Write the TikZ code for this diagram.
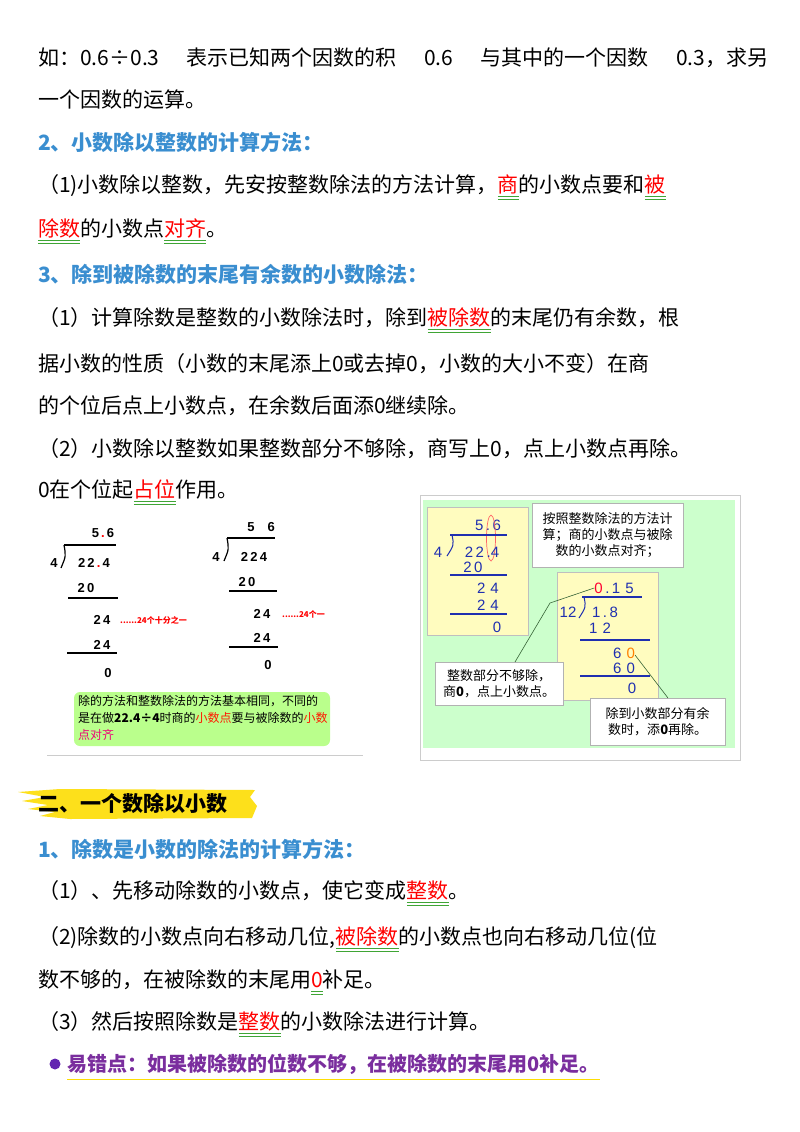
\documentclass[tikz,border=0pt]{standalone}
\usepackage{fontspec}
\usetikzlibrary{calc}
\setmainfont{Noto Sans CJK SC}
\newfontfamily\ar{Liberation Sans}
\XeTeXlinebreaklocale "zh"
\XeTeXlinebreakskip=0pt plus 3pt
\definecolor{hblue}{HTML}{3A8ED0}
\definecolor{ugreen}{HTML}{3FA535}
\definecolor{dblue}{HTML}{1F2FB0}
\definecolor{pur}{HTML}{7A2E9E}
\newcommand\rw[1]{\setbox0\hbox{#1}\rlap{\color{ugreen}\raisebox{-5pt}{\rule{\wd0}{0.9pt}}}\rlap{\color{ugreen}\raisebox{-7.5pt}{\rule{\wd0}{0.9pt}}}\textcolor{red}{#1}}
\newcommand\jl[2]{\makebox[#1pt][s]{#2}}
\tikzset{
 txt/.style={anchor=west,inner sep=0pt,font=\fontsize{21}{21}\selectfont},
 head/.style={txt,text=hblue,font=\fontsize{21}{21}\selectfont\bfseries},
 dg/.style={inner sep=0pt,font=\ar\bfseries\fontsize{13}{13}\selectfont},
 bd/.style={inner sep=0pt,text=dblue,font=\ar\fontsize{15}{15}\selectfont},
 rule/.style={line width=1.6pt},
 brule/.style={line width=1.3pt,dblue},
 cbox/.style={draw=gray!60,fill=white,inner sep=3pt,align=center,font=\fontsize{13}{16}\selectfont},
}
\begin{document}
\begin{tikzpicture}[x=1pt,y=-1pt]
\useasboundingbox (0,0) rectangle (800,1132);
\fill[white] (0,0) rectangle (800,1132);
\node[txt] (l1) at (38,58) {\jl{730}{如：0.6÷0.3 表示已知两个因数的积 0.6 与其中的一个因数 0.3，求另}};
\node[txt] (l2) at (38,100) {一个因数的运算。};
\node[head] (h2) at (38,142) {2、小数除以整数的计算方法：};
\node[txt] (l3) at (38,187) {\jl{732}{（1)小数除以整数，先安按整数除法的方法计算，\rw{商}的小数点要和\rw{被}}};
\node[txt] (l4) at (38,231) {\rw{除数}的小数点\rw{对齐}。};
\node[head] (h3) at (38,274) {3、除到被除数的末尾有余数的小数除法：};
\node[txt] (l5) at (38,320) {\jl{732}{（1）计算除数是整数的小数除法时，除到\rw{被除数}的末尾仍有余数，根}};
\node[txt] (l6) at (38,364) {\jl{732}{据小数的性质（小数的末尾添上0或去掉0，小数的大小不变）在商}};
\node[txt] (l7) at (38,406) {的个位后点上小数点，在余数后面添0继续除。};
\node[txt] (l8) at (38,449) {\jl{737}{（2）小数除以整数如果整数部分不够除，商写上0，点上小数点再除。}};
\node[txt] (l9) at (38,492) {0在个位起\rw{占位}作用。};
% left division 1
\node[dg] (a1) at (103,533) {5\,\textcolor{red}{.}\,6};
\draw[rule] (64,545) -- (116,545);
\draw[line width=1.2pt] (64,545) .. controls (66,556) .. (61,568);
\node[dg] (a2) at (54,563) {4};
\node[dg] (a3) at (94,563) {2\,2\,\textcolor{red}{.}\,4};
\node[dg] (a4) at (86,588) {2\,0};
\draw[rule] (68,598) -- (118,598);
\node[dg] (a5) at (102,620) {2\,4};
\node[inner sep=0pt,text=red,font=\bfseries\fontsize{8}{8}\selectfont,anchor=west] (a6) at (120,620) {......24个十分之一};
\node[dg] (a7) at (102,645) {2\,4};
\draw[rule] (67,653) -- (117,653);
\node[dg] (a8) at (108,673) {0};
% left division 2
\node[dg] (b1) at (261,527) {5\quad 6};
\draw[rule] (227,538) -- (275,538);
\draw[line width=1.2pt] (227,538) .. controls (229,549) .. (224,561);
\node[dg] (b2) at (216,557) {4};
\node[dg] (b3) at (254,557) {2\,2\,4};
\node[dg] (b4) at (247,582) {2\,0};
\draw[rule] (229,591) -- (277,591);
\node[dg] (b5) at (262,614) {2\,4};
\node[inner sep=0pt,text=red,font=\bfseries\fontsize{8}{8}\selectfont,anchor=west] (b6) at (282,614) {......24个一};
\node[dg] (b7) at (262,638) {2\,4};
\draw[rule] (229,647) -- (278,647);
\node[dg] (b8) at (268,665) {0};
\fill[green!60!yellow!45, rounded corners=6pt] (74,692) rectangle (330,746);
\node[anchor=north west,inner sep=0pt,align=left,font=\fontsize{12}{17}\selectfont] (gb) at (78,695) {除的方法和整数除法的方法基本相同，不同的\\是在做\textbf{22.4÷4}时商的\textcolor{red!80!orange}{小数点}要与被除数的\textcolor{red!80!orange}{小数}\\\textcolor{magenta!80!red}{点对齐}};
\draw[gray!40,line width=1pt] (47,755) -- (363,755);
% right figure
\draw[gray!40,fill=white] (420,495) rectangle (740,760);
\fill[green!20] (423,500) rectangle (735,748);
\draw[gray!50,fill=yellow!25] (427,507) rectangle (528,635);
\node[bd] (c1) at (488,525) {5\,.\,6};
\draw[red!60,line width=0.7pt] (491,538) ellipse (4.5 and 23);
\draw[brule] (450,535) -- (507,535);
\draw[dblue,line width=1pt] (452,535) .. controls (454,545) .. (447,556);
\node[bd] (c2) at (438,552) {4};
\node[bd] (c3) at (482,552) {2\,2\,.4};
\node[bd] (c4) at (473,567) {2\,0};
\draw[brule] (450,575) -- (507,575);
\node[bd] (c5) at (488,588) {2\,\,4};
\node[bd] (c6) at (488,605) {2\,\,4};
\draw[brule] (450,614) -- (507,614);
\node[bd] (c7) at (497,627) {0};
\node[cbox,minimum width=151pt,minimum height=64pt,anchor=north west] (bx) at (532,503) {按照整数除法的方法计\\算；商的小数点与被除\\数的小数点对齐；};
\draw[gray!50,fill=yellow!25] (557,572) rectangle (658,700);
\node[bd] (d1) at (614,588) {\textcolor{red!80!magenta}{0}\,.\,1\,\,5};
\draw[brule] (582,597) -- (642,597);
\draw[dblue,line width=1pt] (584,597) .. controls (586,607) .. (579,618);
\node[bd] (d2) at (568,612) {12};
\node[bd] (d3) at (605,612) {1\,.\,8};
\node[bd] (d4) at (600,628) {1\,\,2};
\draw[brule] (580,640) -- (650,640);
\node[bd] (d5) at (624,653) {6\,\,\textcolor{orange}{0}};
\node[bd] (d6) at (624,668) {6\,\,0};
\draw[brule] (580,676) -- (650,676);
\node[bd] (d7) at (632,688) {0};
\node[cbox,minimum width=128pt,minimum height=43pt,anchor=north west] (cd) at (435,662) {整数部分不够除，\\商\textbf{0}，点上小数点。};
\node[cbox,minimum width=135pt,minimum height=47pt,anchor=north west] (ce) at (590,698) {除到小数部分有余\\数时，添\textbf{0}再除。};
\coordinate (k1) at (550,603);
\draw[gray!70!green!60!black,line width=0.6pt] (515,662) -- (k1) -- (d1.west);
\draw[gray!70!green!60!black,line width=0.6pt] (635,655) -- (668,698);
% section 2
\fill[yellow!80!orange!90] (18,792) -- (60,789) -- (255,790) -- (250,797) -- (257,806) -- (252,818) -- (70,819) -- (40,816) -- (55,812) -- (28,809) -- (48,805) -- (22,801) -- (45,797) -- cycle;
\node[txt,font=\fontsize{21}{21}\selectfont\bfseries] (s2) at (38,803) {二、一个数除以小数};
\node[head] (h4) at (38,849) {1、除数是小数的除法的计算方法：};
\node[txt] (m1) at (38,893) {（1）、先移动除数的小数点，使它变成\rw{整数}。};
\node[txt] (m2) at (38,939) {\jl{732}{（2)除数的小数点向右移动几位,\rw{被除数}的小数点也向右移动几位(位}};
\node[txt] (m3) at (38,982) {数不够的，在被除数的末尾用\rw{0}补足。};
\node[txt] (m4) at (38,1024) {（3）然后按照除数是\rw{整数}的小数除法进行计算。};
\fill[pur!80!blue] (55,1064) circle (5.5);
\node[txt,text=pur,font=\fontsize{20}{20}\selectfont\bfseries] (m5) at (67,1064) {易错点：如果被除数的位数不够，在被除数的末尾用0补足。};
\draw[yellow!80!orange,line width=1.3pt] ($(m5.south west)+(0,5)$) -- ($(m5.south east)+(0,5)$);
\end{tikzpicture}
\end{document}
